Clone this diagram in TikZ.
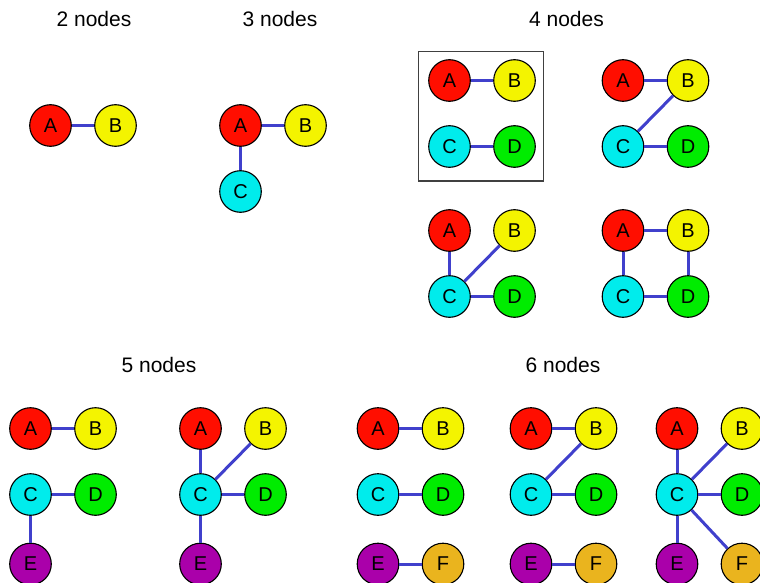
\documentclass[tikz,border=0pt]{standalone}
\usepackage{fontspec}
\setmainfont{Liberation Sans}
\definecolor{vred}{RGB}{255,14,0}
\definecolor{vyellow}{RGB}{244,244,0}
\definecolor{vcyan}{RGB}{0,236,236}
\definecolor{vgreen}{RGB}{0,236,0}
\definecolor{vpurple}{RGB}{170,0,170}
\definecolor{vorange}{RGB}{234,180,30}
\definecolor{linkblue}{RGB}{64,64,204}
\begin{document}
\begin{tikzpicture}[x=1pt,y=-1pt,
  vtx/.style={circle,draw=black,line width=1.1pt,minimum size=41.6pt,
    inner sep=0pt,font=\fontsize{20}{20}\selectfont},
  va/.style={vtx,fill=vred},
  vb/.style={vtx,fill=vyellow},
  vc/.style={vtx,fill=vcyan},
  vd/.style={vtx,fill=vgreen},
  ve/.style={vtx,fill=vpurple},
  vf/.style={vtx,fill=vorange},
  link/.style={draw=linkblue,line width=3pt},
  heading/.style={font=\fontsize{21}{21}\selectfont,anchor=base,inner sep=0pt},
  frame/.style={draw=black!75,line width=1.3pt}]
\useasboundingbox (0,0) rectangle (760,583);

% section headings
\node[heading] (t2) at (94,26.7) {2 nodes};
\node[heading] (t3) at (280,26.7) {3 nodes};
\node[heading] (t4) at (566.5,26.7) {4 nodes};
\node[heading] (t5) at (159,372.3) {5 nodes};
\node[heading] (t6) at (563,372.3) {6 nodes};

% 2 nodes
\begin{scope}[shift={(50.5,125.5)},name prefix=g2-]
  \node[va] (A) at (0,0) {A};
  \node[vb] (B) at (65,0) {B};
  \draw[link] (A) -- (B);
\end{scope}

% 3 nodes
\begin{scope}[shift={(240.5,125.5)},name prefix=g3-]
  \node[va] (A) at (0,0) {A};
  \node[vb] (B) at (65,0) {B};
  \node[vc] (C) at (0,66) {C};
  \draw[link] (A) -- (B);
  \draw[link] (A) -- (C);
\end{scope}

% 4 nodes, boxed: two separate pairs
\begin{scope}[shift={(449.5,80.5)},name prefix=g4a-]
  \node[va] (A) at (0,0) {A};
  \node[vb] (B) at (65,0) {B};
  \node[vc] (C) at (0,66) {C};
  \node[vd] (D) at (65,66) {D};
  \draw[link] (A) -- (B);
  \draw[link] (C) -- (D);
  \coordinate (nw) at (-31.2,-28.8);
  \coordinate (se) at (93.8,100.5);
  \draw[frame] (nw) rectangle (se);
\end{scope}

% 4 nodes, path
\begin{scope}[shift={(623,80.5)},name prefix=g4b-]
  \node[va] (A) at (0,0) {A};
  \node[vb] (B) at (65,0) {B};
  \node[vc] (C) at (0,66) {C};
  \node[vd] (D) at (65,66) {D};
  \draw[link] (A) -- (B);
  \draw[link] (B) -- (C);
  \draw[link] (C) -- (D);
\end{scope}

% 4 nodes, star
\begin{scope}[shift={(449.5,230.5)},name prefix=g4c-]
  \node[va] (A) at (0,0) {A};
  \node[vb] (B) at (65,0) {B};
  \node[vc] (C) at (0,66) {C};
  \node[vd] (D) at (65,66) {D};
  \draw[link] (A) -- (C);
  \draw[link] (B) -- (C);
  \draw[link] (C) -- (D);
\end{scope}

% 4 nodes, cycle
\begin{scope}[shift={(623,230.5)},name prefix=g4d-]
  \node[va] (A) at (0,0) {A};
  \node[vb] (B) at (65,0) {B};
  \node[vc] (C) at (0,66) {C};
  \node[vd] (D) at (65,66) {D};
  \draw[link] (A) -- (B);
  \draw[link] (A) -- (C);
  \draw[link] (B) -- (D);
  \draw[link] (C) -- (D);
\end{scope}

% 5 nodes, first
\begin{scope}[shift={(30.5,428.5)},name prefix=g5a-]
  \node[va] (A) at (0,0) {A};
  \node[vb] (B) at (65,0) {B};
  \node[vc] (C) at (0,66) {C};
  \node[vd] (D) at (65,66) {D};
  \node[ve] (E) at (0,135.5) {E};
  \draw[link] (A) -- (B);
  \draw[link] (C) -- (D);
  \draw[link] (C) -- (E);
\end{scope}

% 5 nodes, second
\begin{scope}[shift={(200.5,428.5)},name prefix=g5b-]
  \node[va] (A) at (0,0) {A};
  \node[vb] (B) at (65,0) {B};
  \node[vc] (C) at (0,66) {C};
  \node[vd] (D) at (65,66) {D};
  \node[ve] (E) at (0,135.5) {E};
  \draw[link] (A) -- (C);
  \draw[link] (B) -- (C);
  \draw[link] (C) -- (D);
  \draw[link] (C) -- (E);
\end{scope}

% 6 nodes, three pairs
\begin{scope}[shift={(378,428.5)},name prefix=g6a-]
  \node[va] (A) at (0,0) {A};
  \node[vb] (B) at (65,0) {B};
  \node[vc] (C) at (0,66) {C};
  \node[vd] (D) at (65,66) {D};
  \node[ve] (E) at (0,135.5) {E};
  \node[vf] (F) at (65,135.5) {F};
  \draw[link] (A) -- (B);
  \draw[link] (C) -- (D);
  \draw[link] (E) -- (F);
\end{scope}

% 6 nodes, path plus pair
\begin{scope}[shift={(531,428.5)},name prefix=g6b-]
  \node[va] (A) at (0,0) {A};
  \node[vb] (B) at (65,0) {B};
  \node[vc] (C) at (0,66) {C};
  \node[vd] (D) at (65,66) {D};
  \node[ve] (E) at (0,135.5) {E};
  \node[vf] (F) at (65,135.5) {F};
  \draw[link] (A) -- (B);
  \draw[link] (B) -- (C);
  \draw[link] (C) -- (D);
  \draw[link] (E) -- (F);
\end{scope}

% 6 nodes, star
\begin{scope}[shift={(677,428.5)},name prefix=g6c-]
  \node[va] (A) at (0,0) {A};
  \node[vb] (B) at (65,0) {B};
  \node[vc] (C) at (0,66) {C};
  \node[vd] (D) at (65,66) {D};
  \node[ve] (E) at (0,135.5) {E};
  \node[vf] (F) at (65,135.5) {F};
  \draw[link] (A) -- (C);
  \draw[link] (B) -- (C);
  \draw[link] (C) -- (D);
  \draw[link] (C) -- (E);
  \draw[link] (C) -- (F);
\end{scope}
\end{tikzpicture}
\end{document}
